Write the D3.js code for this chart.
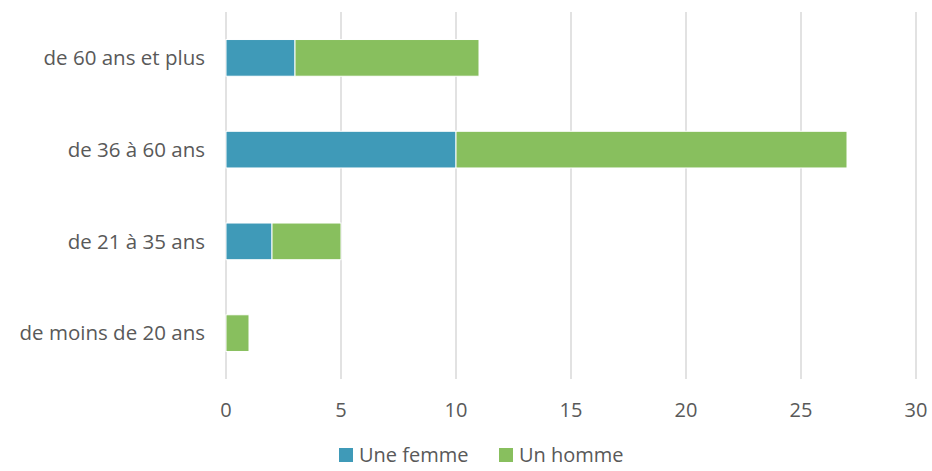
<!DOCTYPE html>
<html>
<head>
<meta charset="utf-8">
<script src="https://cdn.jsdelivr.net/npm/d3@7"></script>
<style>
  body { margin: 0; background: #fff; }
  text { font-family: "Open Sans", "Liberation Sans", sans-serif; fill: #595959; }
</style>
</head>
<body>
<div id="chart"></div>
<script>
const categories = ["de 60 ans et plus", "de 36 à 60 ans", "de 21 à 35 ans", "de moins de 20 ans"];
const femme = [3, 10, 2, 0];
const homme = [8, 17, 3, 1];
const seriesNames = ["Une femme", "Un homme"];
const colors = ["#3f9ab8", "#88bf5e"];
const xTicks = [0, 5, 10, 15, 20, 25, 30];

const W = 932, H = 471;
const margin = { top: 12, right: 16, bottom: 92, left: 226 };
const width = W - margin.left - margin.right,
      height = H - margin.top - margin.bottom;

const svg = d3.select("#chart").append("svg")
  .attr("width", W).attr("height", H);
const g = svg.append("g").attr("transform", `translate(${margin.left},${margin.top})`);

const x = d3.scaleLinear().domain([0, 30]).range([0, width]);
const y = d3.scaleBand().domain(categories).range([0, height]).paddingInner(0.6).paddingOuter(0.3);

// gridlines
g.selectAll("line.grid")
  .data(xTicks)
  .enter().append("line")
  .attr("x1", d => x(d)).attr("x2", d => x(d))
  .attr("y1", 0).attr("y2", height)
  .attr("stroke", "#d9d9d9").attr("stroke-width", 1.5);

// x tick labels
g.selectAll("text.xt")
  .data(xTicks)
  .enter().append("text")
  .attr("x", d => x(d)).attr("y", height + 31)
  .attr("dy", "0.35em")
  .attr("text-anchor", "middle")
  .style("font-size", "20px")
  .text(d => d);

// y labels
g.selectAll("text.yl")
  .data(categories)
  .enter().append("text")
  .attr("x", -21).attr("y", d => y(d) + y.bandwidth() / 2)
  .attr("dy", "0.35em")
  .attr("text-anchor", "end")
  .style("font-size", "20.5px")
  .text(d => d);

// stacked bars
const rows = categories.map((c, i) => ({ cat: c, femme: femme[i], homme: homme[i] }));
const stack = d3.stack().keys(["femme", "homme"])(rows);

g.selectAll("g.series")
  .data(stack)
  .enter().append("g")
  .attr("fill", (d, i) => colors[i])
  .selectAll("rect")
  .data(d => d)
  .enter().append("rect")
  .attr("x", d => x(d[0]))
  .attr("y", d => y(d.data.cat))
  .attr("width", d => x(d[1]) - x(d[0]))
  .attr("height", y.bandwidth())
  .attr("stroke", "#fff").attr("stroke-width", 1)
  .style("display", d => d[1] - d[0] > 0 ? null : "none");

// legend
const legend = svg.append("g").attr("transform", "translate(339,448)");
const item = legend.selectAll("g")
  .data(seriesNames)
  .enter().append("g")
  .attr("transform", (d, i) => `translate(${i * 160},0)`);
item.append("rect")
  .attr("width", 14).attr("height", 14)
  .attr("fill", (d, i) => colors[i]);
item.append("text")
  .attr("x", 20).attr("y", 7).attr("dy", "0.35em")
  .style("font-size", "20px")
  .text(d => d);
</script>
</body>
</html>
